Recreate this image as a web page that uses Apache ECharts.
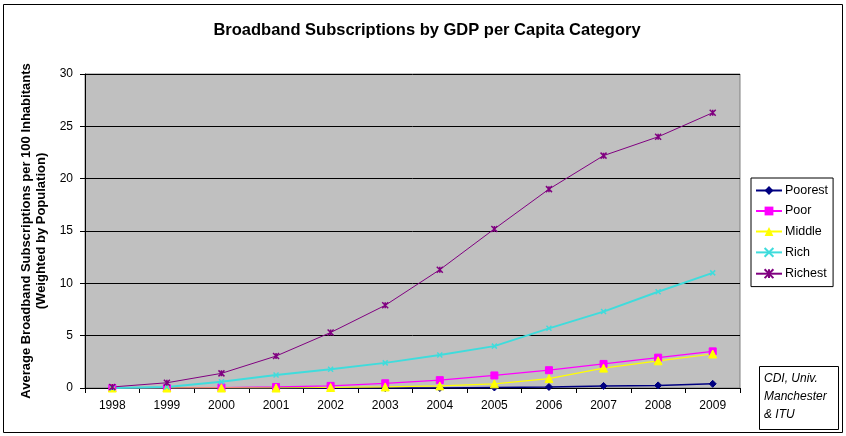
<!DOCTYPE html>
<html><head><meta charset="utf-8">
<script src="https://cdn.jsdelivr.net/npm/echarts@6/dist/echarts.min.js"></script>
<style>html,body{margin:0;padding:0;background:#fff}#c{width:846px;height:436px}</style>
</head><body><div id="c"></div>
<script>
const years = ['1998','1999','2000','2001','2002','2003','2004','2005','2006','2007','2008','2009'];
const poorest = [0,0,0,0,0,0,0,0.05,0.1,0.2,0.25,0.4];
const poor = [0,0,0.05,0.1,0.2,0.45,0.75,1.2,1.7,2.3,2.9,3.5];
const middle = [0,0,0,0,0.05,0.1,0.2,0.4,0.9,1.9,2.6,3.25];
const rich = [0,0.1,0.6,1.25,1.8,2.4,3.15,4.0,5.7,7.3,9.2,11.0];
const richest = [0.1,0.5,1.4,3.05,5.3,7.9,11.3,15.2,19.0,22.2,24.0,26.3];
const yTicks = [0,5,10,15,20,25,30];

const chart = echarts.init(document.getElementById('c'));
const FONT = 'Liberation Sans, Arial, sans-serif';
const xPath = 'path://M0,0 L10,10 M10,0 L0,10';
const starPath = 'path://M0,0 L10,10 M10,0 L0,10 M5,0 L5,10';
function mk(name, data, color, symbol, size, lw, symBorder) {
  return {
    name, type: 'line', data, symbol, symbolSize: size,
    lineStyle: {color, width: lw},
    itemStyle: symBorder ? {color: 'none', borderColor: color, borderWidth: 1.5} : {color, borderColor: color},
    emphasis: {disabled: true}, animation: false
  };
}
chart.setOption({
  animation: false,
  backgroundColor: '#fff',
  title: {text: 'Broadband Subscriptions by GDP per Capita Category', left: 422, top: 17, textAlign: 'center',
    textStyle: {fontFamily: FONT, fontSize: 16.5, fontWeight: 'bold', color: '#000'}},
  grid: {left: 85, right: 106, top: 74, bottom: 48, show: true, backgroundColor: '#C0C0C0', borderColor: '#808080', borderWidth: 1},
  legend: {orient: 'vertical', left: 751, top: 178, itemGap: 7.5, itemWidth: 26, itemHeight: 11,
    borderColor: '#000', borderWidth: 1, padding: [6, 5, 6, 4], backgroundColor: '#fff',
    textStyle: {fontFamily: FONT, fontSize: 12.5, color: '#000', padding: [0,0,0,-2]},
    data: ['Poorest','Poor','Middle','Rich','Richest']},
  xAxis: {type: 'category', data: years, boundaryGap: true,
    axisLine: {lineStyle: {color: '#000', width: 1}},
    axisTick: {show: true, alignWithLabel: false, length: 5, lineStyle: {color: '#000'}},
    axisLabel: {fontFamily: FONT, fontSize: 12, color: '#000', margin: 12}},
  yAxis: {type: 'value', min: 0, max: 30, interval: 5,
    name: 'Average Broadband Subscriptions per 100 Inhabitants\n(Weighted by Population)',
    nameLocation: 'middle', nameGap: 36, nameRotate: 90,
    nameTextStyle: {fontFamily: FONT, fontSize: 13, fontWeight: 'bold', color: '#000', lineHeight: 15},
    axisLine: {show: true, lineStyle: {color: '#000'}},
    axisTick: {show: true, length: 5, lineStyle: {color: '#000'}},
    axisLabel: {fontFamily: FONT, fontSize: 12, color: '#000', margin: 12},
    splitLine: {lineStyle: {color: '#000', width: 1}}},
  series: [
    mk('Poorest', poorest, '#000080', 'diamond', 7, 1.5),
    mk('Poor', poor, '#FF00FF', 'rect', 7, 1.2),
    mk('Middle', middle, '#FFFF00', 'triangle', 8, 1.2),
    mk('Rich', rich, '#3FDCDC', xPath, 5, 2, true),
    mk('Richest', richest, '#800080', starPath, 6, 1, true)
  ],
  graphic: [
    {type: 'rect', shape: {x: 3.5, y: 4.5, width: 839, height: 428}, style: {fill: 'none', stroke: '#000', lineWidth: 1}, silent: true, z: -10},
    {type: 'rect', shape: {x: 759.5, y: 366.5, width: 79, height: 63}, style: {fill: '#fff', stroke: '#000', lineWidth: 1}, z: 10},
    {type: 'text', left: 764, top: 370, z: 11, style: {text: 'CDI, Univ.\nManchester\n& ITU', font: 'italic 12px ' + FONT, fill: '#000', lineHeight: 18}}
  ]
});
</script></body></html>
